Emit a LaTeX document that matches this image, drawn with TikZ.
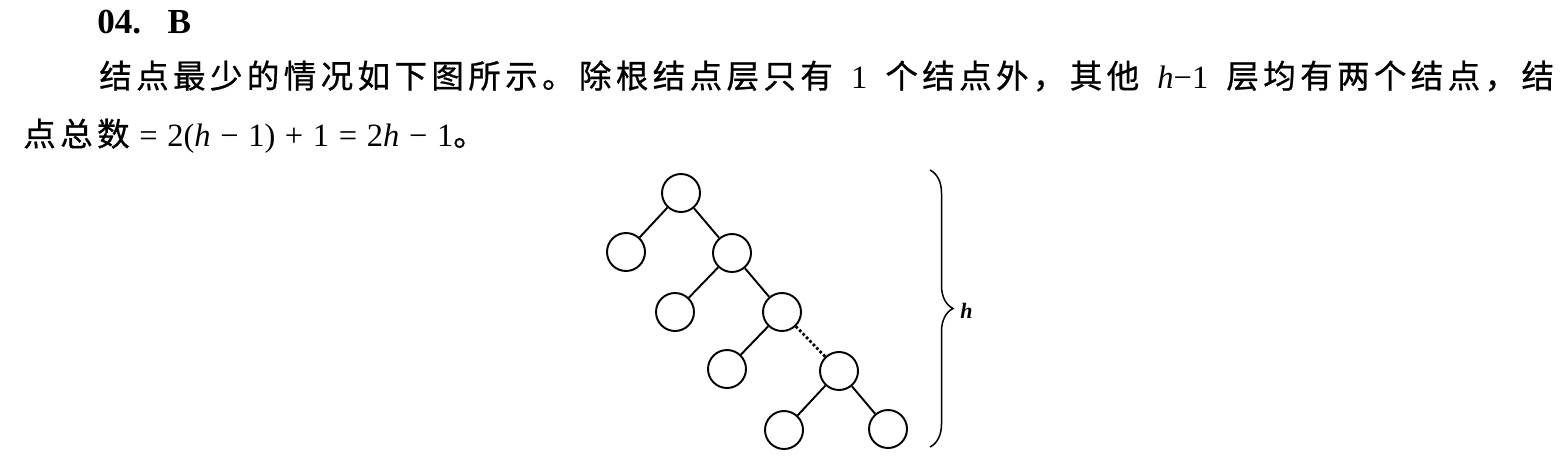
\documentclass[tikz,border=0pt]{standalone}
\usepackage{fontspec}
\setmainfont{Liberation Serif}
\newfontfamily\cjk[FakeBold=0.8]{Noto Sans CJK SC}
\usetikzlibrary{decorations.pathreplacing}
\newcommand\lat[1]{{\rmfamily\fontsize{18.5}{22}\selectfont #1}}
% spread the CJK characters a little
\newcount\cjkc
\cjkc="4E00
\loop
  \XeTeXcharclass\cjkc=7
  \advance\cjkc by 1
\ifnum\cjkc<"9FFF \repeat
\XeTeXcharclass"3002=8
\XeTeXcharclass"FF0C=8
\XeTeXinterchartokenstate=1
\XeTeXinterchartoks 7 7 = {\hskip 2.5pt}
\XeTeXinterchartoks 7 8 = {\hskip 2.5pt}
\XeTeXinterchartoks 8 7 = {\hskip 2.5pt}

\begin{document}
\begin{tikzpicture}[x=0.02cm, y=-0.02cm,
    nd/.style={circle, draw, line width=1.1pt, minimum size=0.76cm, inner sep=0pt},
    ln/.style={line width=1.1pt},
    dots/.style={line width=1.6pt, dash pattern=on 1.5pt off 1.3pt},
    brc/.style={decorate, decoration={brace, amplitude=0.46cm}, line width=0.85pt},
    txt/.style={anchor=base west, inner sep=0pt, font=\cjk\fontsize{18.5}{22}\selectfont}]
    \useasboundingbox (0,0) rectangle (1567,463);

    % heading and text
    \node[anchor=base west, inner sep=0pt, font=\fontsize{20}{24}\selectfont\bfseries] (hd) at (97,33) {04.\hspace{0.75em}B};
    \node[txt] (l1) at (99,88) {\makebox[29.1cm][s]{结点最少的情况如下图所示。除根结点层只有 \lat{1} 个结点外，其他 \lat{\textit{h}−1} 层均有两个结点，结}};
    \node[txt] (l2) at (23,146) {\makebox[8.6cm][s]{点总数\lat{ = 2(\textit{h} − 1) + 1 = 2\textit{h} − 1}}。};

    % tree
    \node[nd] (r) at (681,193) {};
    \node[nd] (a1) at (626,252) {};
    \node[nd] (b1) at (732,253) {};
    \node[nd] (a2) at (675,312) {};
    \node[nd] (b2) at (782,312) {};
    \node[nd] (a3) at (727,369) {};
    \node[nd] (b3) at (839,371) {};
    \node[nd] (a4) at (784,430) {};
    \node[nd] (b4) at (888,429) {};
    \draw[ln] (r) -- (a1);
    \draw[ln] (r) -- (b1);
    \draw[ln] (b1) -- (a2);
    \draw[ln] (b1) -- (b2);
    \draw[ln] (b2) -- (a3);
    \draw[dots] (b2) -- (b3);
    \draw[ln] (b3) -- (a4);
    \draw[ln] (b3) -- (b4);

    % brace
    \coordinate (bt) at (930,170);
    \coordinate (bb) at (930,447);
    \draw[brc] (bt) -- (bb);
    \node[anchor=base west, inner sep=0pt, font=\fontsize{12.5}{15}\selectfont\bfseries\itshape] (hl) at (960,318) {h};
\end{tikzpicture}
\end{document}
